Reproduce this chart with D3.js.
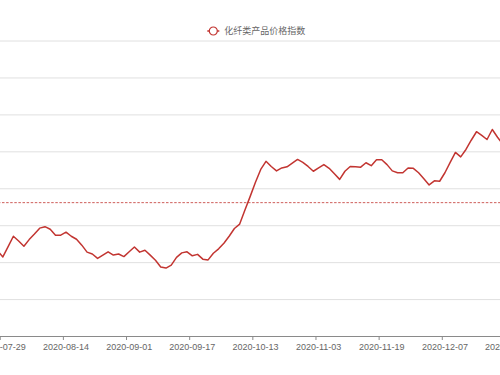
<!DOCTYPE html>
<html>
<head>
<meta charset="utf-8">
<script src="https://cdn.jsdelivr.net/npm/d3@7/dist/d3.min.js"></script>
<style>
  body { margin: 0; background: #fff; }
  svg { display: block; font-family: "Noto Sans CJK SC", "Noto Sans", sans-serif; }
</style>
</head>
<body>
<div class="container"></div>
<script>
const dates = [
  "2020-07-27", "2020-07-28", "2020-07-29", "2020-07-30", "2020-07-31",
  "2020-08-03", "2020-08-04", "2020-08-05", "2020-08-06", "2020-08-07",
  "2020-08-10", "2020-08-11", "2020-08-12", "2020-08-13", "2020-08-14",
  "2020-08-17", "2020-08-18", "2020-08-19", "2020-08-20", "2020-08-21",
  "2020-08-24", "2020-08-25", "2020-08-26", "2020-08-27", "2020-08-28",
  "2020-08-31", "2020-09-01", "2020-09-02", "2020-09-03", "2020-09-04",
  "2020-09-07", "2020-09-08", "2020-09-09", "2020-09-10", "2020-09-11",
  "2020-09-14", "2020-09-15", "2020-09-16", "2020-09-17", "2020-09-18",
  "2020-09-21", "2020-09-22", "2020-09-23", "2020-09-24", "2020-09-25",
  "2020-09-28", "2020-09-29", "2020-09-30", "2020-10-09", "2020-10-12",
  "2020-10-13", "2020-10-14", "2020-10-15", "2020-10-16", "2020-10-19",
  "2020-10-21", "2020-10-22", "2020-10-23", "2020-10-26", "2020-10-28",
  "2020-10-30", "2020-11-02", "2020-11-03", "2020-11-04", "2020-11-05",
  "2020-11-06", "2020-11-09", "2020-11-10", "2020-11-11", "2020-11-12",
  "2020-11-13", "2020-11-16", "2020-11-17", "2020-11-18", "2020-11-19",
  "2020-11-20", "2020-11-23", "2020-11-24", "2020-11-25", "2020-11-26",
  "2020-11-27", "2020-11-30", "2020-12-01", "2020-12-02", "2020-12-03",
  "2020-12-04", "2020-12-07", "2020-12-08", "2020-12-09", "2020-12-10",
  "2020-12-11", "2020-12-14", "2020-12-15", "2020-12-16", "2020-12-17",
  "2020-12-18", "2020-12-21", "2020-12-22", "2020-12-23"
];

const priceIndex = [
  83.8, 83.0, 81.4, 84.2, 87.0, 85.7, 84.3, 86.1, 87.6, 89.2,
  89.6, 88.9, 87.3, 87.3, 88.1, 87.0, 86.2, 84.6, 82.7, 82.2,
  81.0, 81.9, 82.8, 81.9, 82.2, 81.5, 82.8, 84.1, 82.7, 83.2,
  81.9, 80.5, 78.7, 78.4, 79.2, 81.3, 82.5, 82.8, 81.7, 82.1,
  80.8, 80.6, 82.4, 83.6, 85.1, 87.0, 89.1, 90.3, 94.1, 97.8,
  101.6, 105.1, 107.3, 105.9, 104.7, 105.5, 105.8, 106.8, 107.8, 107.0,
  105.9, 104.6, 105.5, 106.4, 105.4, 103.9, 102.4, 104.6, 105.9, 105.8,
  105.7, 106.9, 106.1, 107.7, 107.7, 106.4, 104.7, 104.2, 104.2, 105.5,
  105.4, 104.2, 102.6, 100.9, 102.0, 101.9, 104.2, 107.0, 109.7, 108.5,
  110.5, 113.0, 115.3, 114.3, 113.2, 115.9, 113.8, 111.9, 111.0
];

const tickLabels = [
  "2020-07-29", "2020-08-14", "2020-09-01", "2020-09-17", "2020-10-13",
  "2020-11-03", "2020-11-19", "2020-12-07", "2020-12-23"
];

const seriesName = "化纤类产品价格指数";
const averageValue = 96.1;
const yTicks = [60, 70, 80, 90, 100, 110, 120, 130, 140];

const w = 500;
const h = 375;
const color = "#c23531";

const svg = d3.select(".container")
  .append("svg")
  .attr("width", w)
  .attr("height", h);

// the plot area starts and ends outside the visible window
const xScale = d3.scaleBand()
  .domain(dates)
  .range([-10.3, 510.7])
  .paddingInner(0)
  .paddingOuter(0);

const yScale = d3.scaleLinear()
  .domain([60, 140])
  .range([336, 40.5]);

const gridLeft = xScale.range()[0];
const gridRight = xScale.range()[1];

// horizontal grid lines
svg.append("g")
  .attr("class", "grid")
  .attr("transform", "translate(" + gridLeft + ",0)")
  .call(d3.axisLeft(yScale)
    .tickValues(yTicks.slice(1))
    .tickSize(-(gridRight - gridLeft))
    .tickFormat(""))
  .call(g => g.select(".domain").remove())
  .call(g => g.selectAll("line").attr("stroke", "#e0e0e0").attr("stroke-width", 1));

// x axis, ticks sit on category boundaries
const xAxis = d3.axisBottom(xScale)
  .tickValues(tickLabels)
  .tickSizeInner(4)
  .tickSizeOuter(0)
  .tickPadding(4);

const xg = svg.append("g")
  .attr("transform", "translate(0," + yScale(60) + ")")
  .call(xAxis);

xg.select(".domain").attr("stroke", "#8a8a8a");
xg.selectAll(".tick line")
  .attr("stroke", "#8a8a8a")
  .attr("x1", -xScale.bandwidth() / 2)
  .attr("x2", -xScale.bandwidth() / 2);
xg.selectAll(".tick text")
  .attr("fill", "#666")
  .style("font-size", "9px");

// average mark line
svg.append("line")
  .attr("x1", gridLeft)
  .attr("x2", gridRight)
  .attr("y1", yScale(averageValue))
  .attr("y2", yScale(averageValue))
  .attr("stroke", color)
  .attr("stroke-opacity", 0.8)
  .attr("stroke-width", 1)
  .attr("stroke-dasharray", "2.5,1.6");

const line = d3.line()
  .x((d, i) => xScale(dates[i]) + xScale.bandwidth() / 2)
  .y((d) => yScale(d));

svg.append("path")
  .datum(priceIndex)
  .attr("fill", "none")
  .attr("stroke", color)
  .attr("stroke-width", 1.5)
  .attr("stroke-linejoin", "round")
  .attr("d", line);

// legend
const legend = svg.append("g")
  .attr("id", "legend")
  .attr("transform", "translate(213.3,31)");

legend.append("line")
  .attr("x1", -6)
  .attr("x2", 6)
  .attr("stroke", color)
  .attr("stroke-width", 1.5);

legend.append("circle")
  .attr("r", 4)
  .attr("fill", "#fff")
  .attr("stroke", color)
  .attr("stroke-width", 1.2);

legend.append("text")
  .text(seriesName)
  .attr("x", 11)
  .attr("y", 0)
  .attr("dy", "0.35em")
  .attr("fill", "#666")
  .style("font-size", "9px");
</script>
</body>
</html>
